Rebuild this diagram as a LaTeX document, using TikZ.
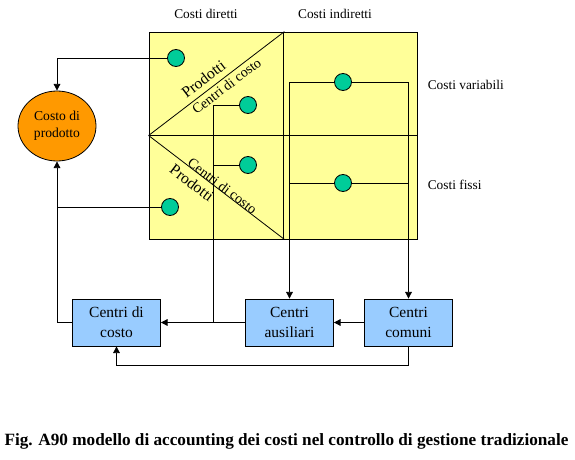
\documentclass[tikz,border=0pt]{standalone}
\usepackage{fontspec}
\setmainfont{Liberation Serif}
\usetikzlibrary{shapes.geometric,arrows.meta}

\definecolor{panelyellow}{HTML}{FFFF99}
\definecolor{dotgreen}{HTML}{00CC99}
\definecolor{costorange}{HTML}{FF9900}
\definecolor{centreblue}{HTML}{99CCFF}

\begin{document}
\begin{tikzpicture}[x=0.75pt, y=-0.75pt, line width=0.6pt,
  every node/.style = {font=\fontsize{10}{12}\selectfont},
  panel/.style = {draw, fill=panelyellow, minimum height=155.25pt, inner sep=0pt},
  dot/.style = {draw, circle, fill=dotgreen, minimum size=12.75pt, inner sep=0pt},
  diag/.style = {inner sep=0pt, font=\fontsize{10.5}{12}\selectfont},
  diagbig/.style = {diag, font=\fontsize{11.8}{12}\selectfont},
  centre/.style = {draw, fill=centreblue, align=center, minimum width=66pt,
    minimum height=35.25pt, font=\fontsize{11.6}{15}\selectfont},
  arr/.style = {-{Triangle[width=5pt,length=5pt]}}]
  \useasboundingbox (0,0) rectangle (575,460);

  \node[panel, minimum width=101.25pt] (dir) at (216.5,135.5) {};
  \node[panel, minimum width=100.5pt] (ind) at (350,135.5) {};
  \draw (dir.west) -- (ind.east);
  \draw (dir.west) -- (dir.north east);
  \draw (dir.west) -- (dir.south east);
  \node[diagbig, rotate=37.3] (prodsu) at (203.5,79) {Prodotti};
  \node[diag, rotate=37.3] (centsu) at (226.5,86) {Centri di costo};
  \node[diag, rotate=-37.3] (centgiu) at (222.5,186) {Centri di costo};
  \node[diagbig, rotate=-37.3] (prodgiu) at (192,183) {Prodotti};

  \node (diretti) at (206,14) {Costi diretti};
  \node (indiretti) at (335,14) {Costi indiretti};
  \node[anchor=west] (variabili) at (423,85) {Costi variabili};
  \node[anchor=west] (fissi) at (423,185) {Costi fissi};

  \node[draw, ellipse, fill=costorange, minimum width=58.5pt, minimum height=52.5pt,
    align=center, inner sep=0pt, font=\fontsize{10.2}{12.75}\selectfont] (costo) at (57,126)
    {Costo di\\prodotto};

  \node[dot] (d1) at (176,58) {};
  \node[dot] (d2) at (248,105) {};
  \node[dot] (d3) at (248,165) {};
  \node[dot] (d4) at (170,207) {};
  \node[dot] (dv) at (343,82) {};
  \node[dot] (df) at (343,183) {};

  \node[centre] (cdc) at (116.5,322.5) {Centri di\\costo};
  \node[centre] (aus) at (289.5,322.5) {Centri\\ausiliari};
  \node[centre] (com) at (408.5,322.5) {Centri\\comuni};
  \coordinate (giunto) at (213,322.5);

  \draw[arr] (d1) -| (costo);
  \draw (d4) -- (d4 -| costo);
  \draw[arr] (cdc) -| (costo);
  \draw (d2) -| (giunto);
  \draw (d3) -- (d3 -| giunto);
  \draw[arr] (dv) -| (aus);
  \draw[arr] (dv) -| (com);
  \draw (df) -- (df -| aus);
  \draw (df) -- (df -| com);
  \draw[arr] (com) -- (aus);
  \draw[arr] (aus) -- (cdc);
  \draw[arr] (com.south) -- ++(0,19) -| (cdc.south);

  \node[font=\fontsize{12.9}{15}\selectfont\bfseries] (didascalia) at (286.5,441)
    {Fig. A90 modello di accounting dei costi nel controllo di gestione tradizionale};
\end{tikzpicture}
\end{document}
